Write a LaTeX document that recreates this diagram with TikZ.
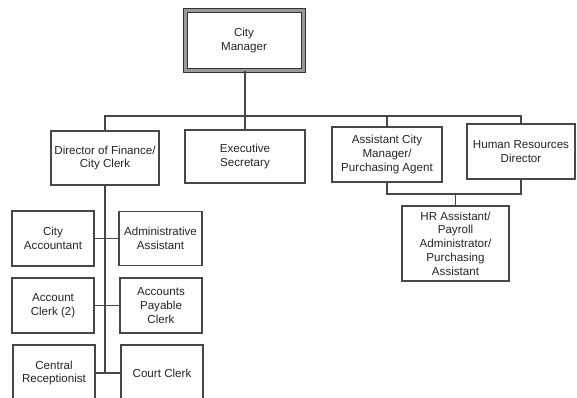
\documentclass[tikz,border=0pt]{standalone}
\usepackage{fontspec}
\setmainfont{Liberation Sans}
\begin{document}
\begin{tikzpicture}[x=1pt,y=-1pt,
  box/.style={draw=black!72, line width=1.5pt, align=center, text=black!85,
    font=\fontsize{11.6}{13.8}\selectfont, inner sep=1pt},
  topbox/.style={box, draw=black!80, line width=1pt, double=black!40, double distance=3pt},
  link/.style={draw=black!72, line width=1.5pt}]
\clip (0,0) rectangle (577,398);
\fill[white] (0,0) rectangle (577,398);
% top
\node[topbox, minimum width=118pt, minimum height=60pt] (CM) at (244,40.5) {City\\Manager};
% second level
\node[box, minimum width=108pt, minimum height=54pt] (DoF) at (105,158) {Director of Finance/\\City Clerk};
\node[box, minimum width=120pt, minimum height=53pt] (ES) at (245,156.5) {Executive\\Secretary};
\node[box, minimum width=110pt, minimum height=55pt] (ACM) at (387,154.5) {Assistant City\\Manager/\\Purchasing Agent};
\node[box, minimum width=108pt, minimum height=55pt] (HRD) at (521,151.5) {Human Resources\\Director};
% HR assistant
\node[box, minimum width=107pt, minimum height=75pt] (HRA) at (455.5,243.5) {HR Assistant/\\Payroll\\Administrator/\\Purchasing\\Assistant};
% finance staff
\node[box, minimum width=82pt, minimum height=55pt] (CA) at (53,238.5) {City\\Accountant};
\node[box, minimum width=83pt, minimum height=54pt] (AA) at (160.5,238.5) {Administrative\\Assistant};
\node[box, minimum width=82pt, minimum height=55pt] (AC) at (53,305.5) {Account\\Clerk (2)};
\node[box, minimum width=82pt, minimum height=55pt] (APC) at (161,305.5) {Accounts\\Payable\\Clerk};
\node[box, minimum width=82pt, minimum height=56pt] (CR) at (54,373) {Central\\Receptionist};
\node[box, minimum width=82pt, minimum height=56pt] (CC) at (162,373) {Court Clerk};
% connectors
\coordinate (busL) at (105,116);
\coordinate (hrbus) at (455.5,194);
\draw[link] (ES.north |- CM.south) -- (ES.north);
\draw[link] (DoF.north) -- (busL) -| (HRD.north);
\draw[link] (ACM.north) -- (ACM.north |- busL);
\draw[link] (ACM.south) -- (ACM.south |- hrbus) -| (HRD.south);
\draw[link] (HRA.north) -- (HRA.north |- hrbus);
\draw[link] (DoF.south) -- (DoF.south |- CR.east);
\draw[link] (CA.east) -- (AA.west);
\draw[link] (AC.east) -- (APC.west);
\draw[link] (CR.east) -- (CC.west);
\end{tikzpicture}
\end{document}
